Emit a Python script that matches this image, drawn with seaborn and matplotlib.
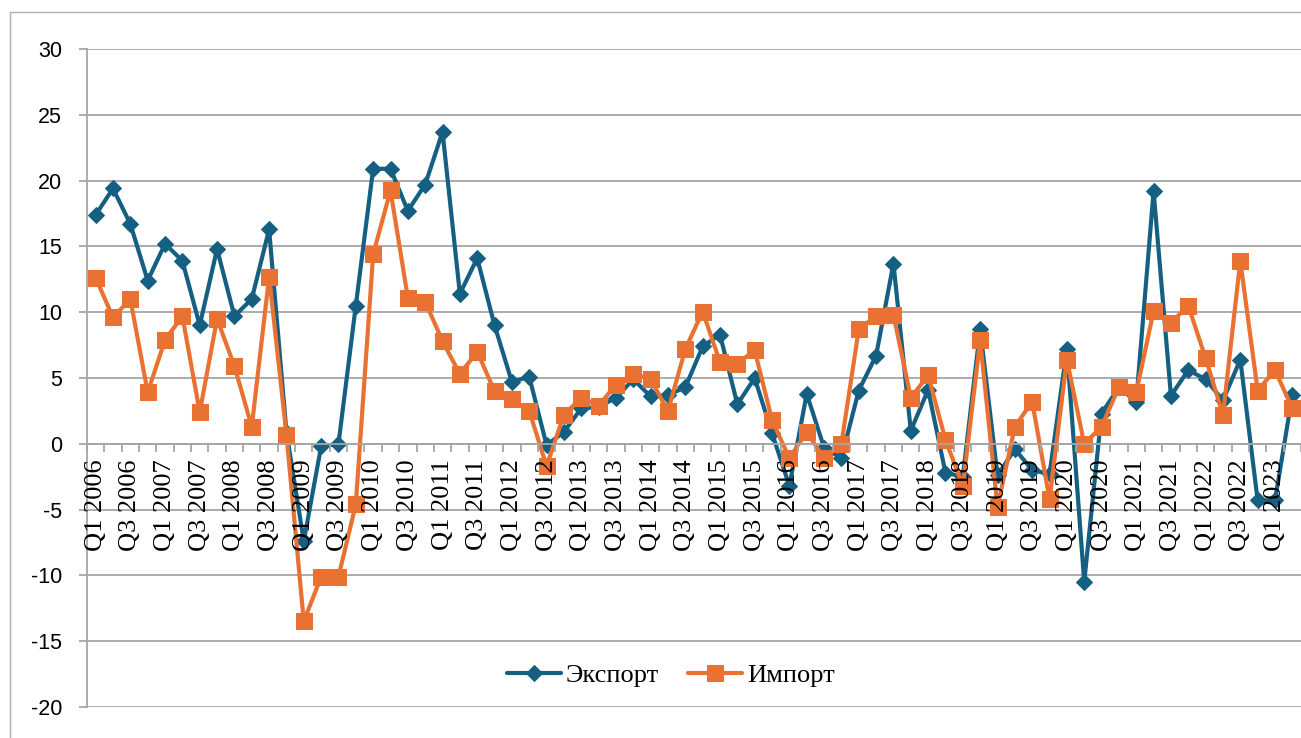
import numpy as np
import pandas as pd
import seaborn as sns
import matplotlib.pyplot as plt
from matplotlib.patches import Rectangle

# Quarterly growth, %, Q1 2006 - Q2 2023
export_vals = [17.4, 19.4, 16.7, 12.4, 15.2, 13.9, 9.0, 14.8, 9.7, 11.0,
               16.3, 0.9, -7.4, -0.2, 0.0, 10.5, 20.9, 20.9, 17.7, 19.7,
               23.7, 11.4, 14.1, 9.0, 4.7, 5.1, -0.1, 0.9, 2.7, 2.8,
               3.5, 4.9, 3.6, 3.7, 4.3, 7.4, 8.3, 3.0, 5.0, 0.8,
               -3.2, 3.8, -0.3, -1.1, 4.05, 6.7, 13.7, 1.0, 4.1, -2.2,
               -2.5, 8.7, -2.4, -0.4, -2.0, -2.3, 7.2, -10.5, 2.3, 4.3,
               3.2, 19.2, 3.65, 5.6, 4.9, 3.3, 6.4, -4.3, -4.3, 3.7]
import_vals = [12.6, 9.6, 11.0, 3.9, 7.9, 9.7, 2.4, 9.5, 5.9, 1.3,
               12.7, 0.7, -13.5, -10.1, -10.1, -4.6, 14.4, 19.25, 11.1, 10.8,
               7.8, 5.3, 7.0, 4.0, 3.4, 2.5, -1.7, 2.2, 3.5, 2.9,
               4.5, 5.3, 4.9, 2.5, 7.2, 10.05, 6.2, 6.1, 7.1, 1.8,
               -1.1, 0.9, -1.1, 0.0, 8.7, 9.7, 9.8, 3.5, 5.2, 0.3,
               -3.2, 7.85, -4.8, 1.3, 3.2, -4.2, 6.4, 0.0, 1.3, 4.3,
               3.9, 10.1, 9.2, 10.5, 6.5, 2.2, 13.9, 4.05, 5.6, 2.7]
tick_labels = ['Q1 2006', 'Q3 2006', 'Q1 2007', 'Q3 2007', 'Q1 2008', 'Q3 2008',
               'Q1 2009', 'Q3 2009', 'Q1 2010', 'Q3 2010', 'Q1 2011', 'Q3 2011',
               'Q1 2012', 'Q3 2012', 'Q1 2013', 'Q3 2013', 'Q1 2014', 'Q3 2014',
               'Q1 2015', 'Q3 2015', 'Q1 2016', 'Q3 2016', 'Q1 2017', 'Q3 2017',
               'Q1 2018', 'Q3 2018', 'Q1 2019', 'Q3 2019', 'Q1 2020', 'Q3 2020',
               'Q1 2021', 'Q3 2021', 'Q1 2022', 'Q3 2022', 'Q1 2023']

sns.set_style("whitegrid")
plt.rcParams['font.family'] = ['Liberation Sans', 'DejaVu Sans']
plt.rcParams['axes.unicode_minus'] = False

grey = '#A6A6A6'
blue = '#156082'
orange = '#E97132'

df = pd.DataFrame({'idx': np.arange(len(export_vals)),
                   'export': export_vals, 'import': import_vals})

fig = plt.figure(figsize=(13.01, 7.38), dpi=100)
ax = fig.add_axes([87 / 1301, 1 - 707 / 738, 1 - 87 / 1301, (707 - 49) / 738])

# рамка области диаграммы
fig.patches.append(Rectangle((10 / 1301, -0.1), 1.2, 1.1 - 12 / 738, transform=fig.transFigure,
                             fill=False, edgecolor='#B0B0B0', linewidth=1.0))

sns.lineplot(data=df, x='idx', y='export', ax=ax, color=blue, linewidth=3.0,
             marker='D', markersize=8.5, markeredgecolor=blue, label='Экспорт')
sns.lineplot(data=df, x='idx', y='import', ax=ax, color=orange, linewidth=3.0,
             marker='s', markersize=12, markeredgecolor=orange, label='Импорт')

ax.set_xlim(-0.5, len(export_vals) - 0.5)
ax.set_ylim(-20, 30)
ax.set_yticks(range(-20, 31, 5))
ax.set_yticklabels([str(v) for v in range(-20, 31, 5)], fontsize=15.5, color='black')
ax.set_xlabel('')
ax.set_ylabel('')

ax.grid(axis='y', color=grey, linewidth=1.3)
ax.grid(axis='x', visible=False)
for s in ['top', 'right']:
    ax.spines[s].set_visible(False)
ax.spines['left'].set_color(grey)
ax.spines['left'].set_linewidth(1.3)
ax.spines['bottom'].set_position(('data', 0))
ax.spines['bottom'].set_color(grey)
ax.spines['bottom'].set_linewidth(1.3)

ax.tick_params(axis='y', length=6, width=1.3, color=grey, pad=12, left=True)
ax.set_xticks(np.arange(0, len(export_vals), 2))
ax.set_xticklabels(tick_labels, rotation=90, fontsize=19, family=['Liberation Serif'], color='black')
ax.set_xticks(np.arange(-0.5, len(export_vals), 1), minor=True)
ax.tick_params(axis='x', which='major', length=0, pad=11)
ax.tick_params(axis='x', which='minor', length=6, width=1.3, color=grey, bottom=True)
ax.xaxis.set_zorder(5)

leg = ax.legend(loc='center', bbox_to_anchor=(671 / 1301, 1 - 675 / 738),
                bbox_transform=fig.transFigure, ncol=2, frameon=False,
                prop={'family': 'Liberation Serif', 'size': 19},
                handlelength=2.05, handletextpad=0.2, columnspacing=1.1)
for t in leg.get_texts():
    t.set_color('black')

plt.savefig('out.png', dpi=100)
